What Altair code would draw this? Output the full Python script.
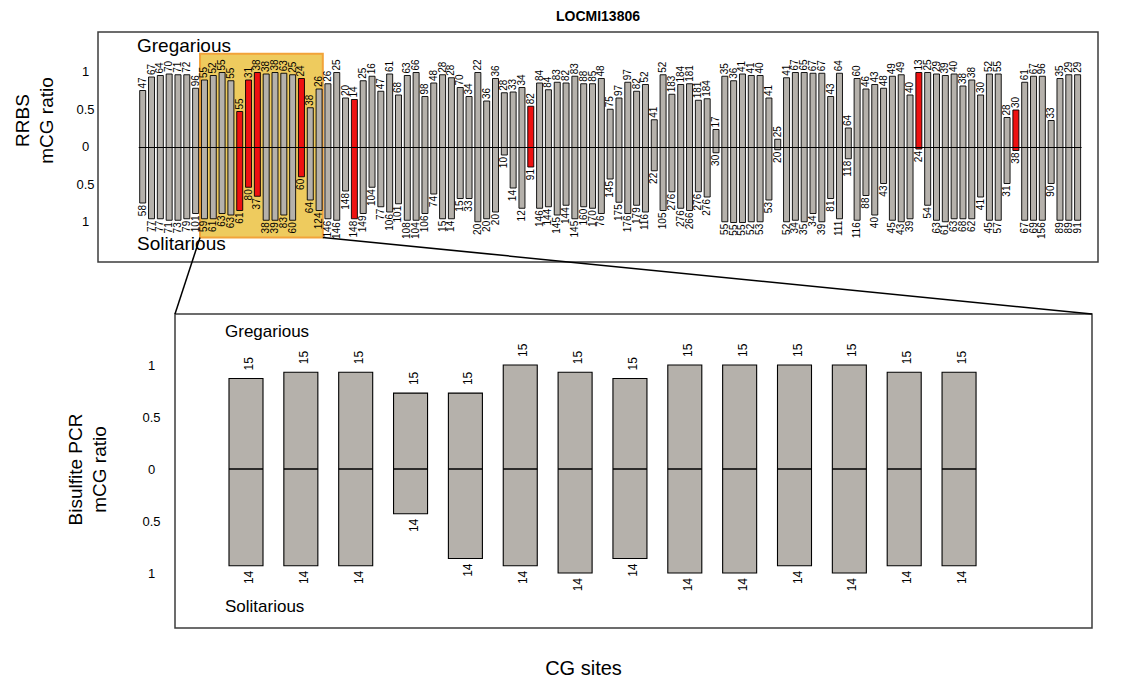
import altair as alt
import pandas as pd

FONT = "Liberation Sans"

# ---------------- RRBS: per CG site methylation ratio and read depth ----------------
rrbs_greg_ratio = [
    0.76, 0.94, 0.96, 0.98, 0.97, 0.97, 0.79, 0.90, 0.96, 1.00,
    0.89, 0.48, 0.90, 1.00, 0.98, 1.00, 0.99, 0.97, 0.92, 0.53,
    0.78, 0.85, 1.00, 0.66, 0.64, 0.89, 0.95, 0.75, 0.98, 0.70,
    0.96, 1.00, 0.68, 0.86, 0.97, 0.93, 0.80, 0.68, 1.00, 0.62,
    0.92, 0.73, 0.74, 0.80, 0.55, 0.86, 0.77, 0.87, 0.86, 0.95,
    0.85, 0.85, 0.92, 0.51, 0.66, 0.87, 0.75, 0.84, 0.37, 0.97,
    0.71, 0.84, 0.85, 0.63, 0.65, 0.24, 0.95, 0.89, 0.98, 0.96,
    0.96, 0.66, 0.11, 0.93, 1.00, 1.00, 0.99, 0.99, 0.68, 0.99,
    0.26, 0.92, 0.78, 0.84, 0.79, 0.95, 0.97, 0.70, 1.00, 1.00,
    0.98, 0.96, 0.98, 0.82, 0.90, 0.70, 0.98, 0.98, 0.40, 0.50,
    0.87, 0.95, 0.95, 0.36, 0.92, 0.97, 0.97,
]
rrbs_sol_ratio = [
    0.74, 0.95, 0.95, 0.97, 0.97, 0.95, 0.88, 0.95, 0.95, 0.88,
    0.90, 0.84, 0.53, 0.65, 0.97, 0.97, 0.90, 0.97, 0.39, 0.70,
    0.84, 0.95, 0.97, 0.58, 0.95, 0.88, 0.53, 0.79, 0.86, 0.75,
    0.97, 0.97, 0.88, 0.62, 0.95, 0.95, 0.68, 0.68, 0.99, 0.95,
    0.86, 0.10, 0.54, 0.81, 0.26, 0.81, 0.79, 0.90, 0.77, 0.95,
    0.79, 0.81, 0.88, 0.42, 0.73, 0.88, 0.77, 0.86, 0.31, 0.84,
    0.59, 0.81, 0.84, 0.59, 0.66, 0.07, 0.99, 1.00, 1.00, 0.99,
    0.99, 0.70, 0.03, 0.99, 0.97, 0.99, 0.88, 0.99, 0.68, 0.95,
    0.15, 0.97, 0.64, 0.90, 0.48, 0.97, 0.99, 0.95, 0.02, 0.77,
    0.97, 0.99, 0.95, 0.95, 0.95, 0.66, 0.97, 0.97, 0.48, 0.04,
    0.97, 0.97, 0.97, 0.48, 0.97, 0.97, 0.97,
]
rrbs_greg_depth = [
    47, 67, 64, 70, 71, 72, 96, 55, 52, 55,
    55, 55, 31, 38, 38, 38, 63, 25, 24, 38,
    26, 26, 25, 20, 14, 25, 16, 47, 61, 68,
    63, 66, 98, 48, 28, 28, 70, 34, 22, 36,
    36, 28, 33, 34, 82, 84, 84, 83, 82, 83,
    88, 85, 48, 75, 97, 97, 82, 52, 41, 52,
    183, 184, 181, 181, 184, 17, 35, 36, 41, 41,
    40, 41, 25, 41, 67, 65, 67, 67, 43, 64,
    64, 60, 46, 43, 48, 49, 49, 40, 13, 25,
    29, 39, 40, 38, 38, 30, 52, 55, 28, 30,
    61, 67, 96, 33, 35, 29, 29,
]
rrbs_sol_depth = [
    58, 77, 77, 71, 73, 79, 101, 59, 61, 63,
    63, 61, 80, 37, 38, 39, 83, 60, 60, 64,
    124, 146, 146, 148, 148, 149, 104, 77, 106, 101,
    108, 104, 106, 74, 15, 14, 15, 33, 20, 20,
    20, 10, 14, 12, 91, 146, 144, 145, 144, 145,
    160, 170, 76, 145, 175, 176, 179, 116, 22, 105,
    276, 276, 266, 276, 276, 30, 55, 55, 55, 52,
    53, 53, 20, 52, 34, 35, 34, 39, 81, 111,
    118, 116, 88, 40, 43, 45, 43, 39, 24, 54,
    63, 61, 63, 68, 62, 41, 45, 57, 31, 38,
    67, 69, 156, 90, 89, 89, 91,
]
# differentially methylated sites (drawn in red)
rrbs_dmr_sites = [12, 13, 14, 19, 25, 45, 89, 100]
# sites re-examined by bisulfite PCR
zoom_sites = list(range(8, 22))

# ---------------- Bisulfite PCR of the boxed sites ----------------
pcr_greg_ratio = [0.87, 0.93, 0.93, 0.73, 0.73, 1.00, 0.93, 0.87, 1.00, 1.00, 1.00, 1.00, 0.93, 0.93]
pcr_sol_ratio = [0.93, 0.93, 0.93, 0.43, 0.86, 0.93, 1.00, 0.86, 1.00, 1.00, 0.93, 1.00, 0.93, 0.93]
pcr_greg_clones = [15, 15, 15, 15, 15, 15, 15, 15, 15, 15, 15, 15, 15, 15]
pcr_sol_clones = [14, 14, 14, 14, 14, 14, 14, 14, 14, 14, 14, 14, 14, 14]

# ---------------- layout (pixels) ----------------
TOP_W, TOP_H = 1000, 230
TOP_FIRST, TOP_PITCH = 44.7, 8.82      # first bar centre from the left edge, bar pitch
TOP_ZERO, TOP_UNIT = 115.5, 75         # zero line from the top edge, px per ratio unit
TOP_HALF = 0.34                        # half bar width in site units
BOT_W, BOT_H = 994, 314
BOT_FIRST, BOT_PITCH = 148, 54.85
BOT_ZERO, BOT_UNIT = 155, 104
BOT_HALF = 0.31
BOT_FRAME_LEFT = 77                    # lower frame starts right of the plot origin
GAP = 52

GRAY = "#B5B1AB"
RED = "#EE1111"
GOLD = "#EECB5E"
ORANGE = "#F2A33A"
FRAME = "#3C3C3C"

top_xdom = [1 - TOP_FIRST / TOP_PITCH, 1 + (TOP_W - TOP_FIRST) / TOP_PITCH]
top_ydom = [-(TOP_H - TOP_ZERO) / TOP_UNIT, TOP_ZERO / TOP_UNIT]
bot_xdom = [1 - BOT_FIRST / BOT_PITCH, 1 + (BOT_W - BOT_FIRST) / BOT_PITCH]
bot_ydom = [-(BOT_H - BOT_ZERO) / BOT_UNIT, BOT_ZERO / BOT_UNIT]

xs_top = alt.Scale(domain=top_xdom, nice=False, zero=False)
ys_top = alt.Scale(domain=top_ydom, nice=False, zero=False)
xs_bot = alt.Scale(domain=bot_xdom, nice=False, zero=False)
ys_bot = alt.Scale(domain=bot_ydom, nice=False, zero=False)

one = pd.DataFrame({"k": [0]})

# ---------------- top panel: RRBS ----------------
sites = list(range(1, len(rrbs_greg_ratio) + 1))
rrbs = pd.DataFrame({
    "site": sites,
    "greg": rrbs_greg_ratio,
    "sol": rrbs_sol_ratio,
    "greg_n": rrbs_greg_depth,
    "sol_n": rrbs_sol_depth,
})
rrbs["sol_neg"] = -rrbs["sol"]
rrbs["lo"] = rrbs["site"] - TOP_HALF
rrbs["hi"] = rrbs["site"] + TOP_HALF
rrbs["status"] = ["DMR" if s in rrbs_dmr_sites else "other" for s in sites]


def ratio_axis(title, padding, offset, label_offset, title_x, title_y):
    return alt.Axis(
        values=[-1, -0.5, 0, 0.5, 1], labelExpr="format(abs(datum.value), '~g')",
        ticks=False, domain=False, grid=False, offset=offset,
        labelAlign="center", labelBaseline="middle", labelPadding=padding,
        labelOffset=label_offset,
        labelFont=FONT, labelFontSize=13, labelColor="black",
        title=title, titleFont=FONT, titleFontSize=19,
        titleFontWeight="normal", titleColor="black", titleAngle=270,
        titleAlign="center", titleBaseline="bottom", titleLineHeight=24,
        titleX=title_x, titleY=title_y,
    )


top_yaxis = ratio_axis(["RRBS", "mCG ratio"], 13, 0, -1, -66, 88)
bot_yaxis = ratio_axis(["Bisulfite PCR", "mCG ratio"], 24, -BOT_FRAME_LEFT, 0, -90, 155)
bot_xaxis = alt.Axis(
    labels=False, ticks=False, domain=False, grid=False,
    title="CG sites", titleFont=FONT, titleFontSize=20, titleFontWeight="normal",
    titleColor="black", titleAlign="center", titleBaseline="top",
    titleX=485, titleY=30,
)


def tx(field):
    return alt.X(field, type="quantitative", scale=xs_top, axis=None)


def ty(field):
    return alt.Y(field, type="quantitative", scale=ys_top, axis=top_yaxis)


box_lo = zoom_sites[0] - 0.5
box_hi = zoom_sites[-1] + 0.42
box_bottom, box_top = -1.2, 1.25

box = alt.Chart(one).mark_rect(fill=GOLD, stroke=ORANGE, strokeWidth=2).encode(
    x=alt.XDatum(box_lo, scale=xs_top, axis=None), x2=alt.X2Datum(box_hi),
    y=alt.YDatum(box_bottom, scale=ys_top, axis=top_yaxis), y2=alt.Y2Datum(box_top),
)

top_bars = alt.Chart(rrbs).mark_rect(stroke="black", strokeWidth=0.9).encode(
    x=tx("lo"), x2="hi:Q", y=ty("greg"), y2="sol_neg:Q",
    color=alt.Color("status:N", scale=alt.Scale(domain=["other", "DMR"], range=[GRAY, RED]), legend=None),
)

top_zero = alt.Chart(one).mark_rule(color="black", strokeWidth=1.2).encode(
    x=alt.XDatum(sites[0] - 0.45, scale=xs_top, axis=None), x2=alt.X2Datum(sites[-1] + 0.45),
    y=alt.YDatum(0, scale=ys_top, axis=top_yaxis),
)

top_glab = alt.Chart(rrbs).mark_text(
    angle=270, align="left", baseline="middle", dx=2, fontSize=10, font=FONT, color="black"
).encode(x=tx("site"), y=ty("greg"), text=alt.Text("greg_n:Q", format="d"))
top_slab = alt.Chart(rrbs).mark_text(
    angle=270, align="right", baseline="middle", dx=-2, fontSize=10, font=FONT, color="black"
).encode(x=tx("site"), y=ty("sol_neg"), text=alt.Text("sol_n:Q", format="d"))

top_greg = alt.Chart(one).mark_text(
    text="Gregarious", align="left", baseline="middle", fontSize=19, font=FONT, color="black"
).encode(x=alt.value(39), y=alt.value(14))
top_sol = alt.Chart(one).mark_text(
    text="Solitarious", align="left", baseline="middle", fontSize=19, font=FONT, color="black"
).encode(x=alt.value(39), y=alt.value(212))

top_frame = alt.Chart(one).mark_rect(fillOpacity=0, stroke=FRAME, strokeWidth=1.5).encode(
    x=alt.XDatum(top_xdom[0], scale=xs_top, axis=None), x2=alt.X2Datum(top_xdom[1]),
    y=alt.YDatum(top_ydom[0], scale=ys_top, axis=top_yaxis), y2=alt.Y2Datum(top_ydom[1]),
)

top = alt.layer(
    box, top_bars, top_zero, top_glab, top_slab, top_greg, top_sol, top_frame
).properties(
    width=TOP_W, height=TOP_H,
    title=alt.TitleParams("LOCMI13806", font=FONT, fontSize=14, fontWeight="bold",
                          color="black", anchor="middle", frame="group", offset=7),
)

# ---------------- bottom panel: bisulfite PCR ----------------
pcr_sites = list(range(1, len(pcr_greg_ratio) + 1))
pcr = pd.DataFrame({
    "site": pcr_sites,
    "greg": pcr_greg_ratio,
    "sol": pcr_sol_ratio,
    "greg_n": pcr_greg_clones,
    "sol_n": pcr_sol_clones,
})
pcr["sol_neg"] = -pcr["sol"]
pcr["lo"] = pcr["site"] - BOT_HALF
pcr["hi"] = pcr["site"] + BOT_HALF


def bx(field):
    return alt.X(field, type="quantitative", scale=xs_bot, axis=bot_xaxis)


def by(field):
    return alt.Y(field, type="quantitative", scale=ys_bot, axis=bot_yaxis)


frame_lo = 1 + (BOT_FRAME_LEFT - BOT_FIRST) / BOT_PITCH
bot_frame = alt.Chart(one).mark_rect(fillOpacity=0, stroke=FRAME, strokeWidth=1.5).encode(
    x=alt.XDatum(frame_lo, scale=xs_bot, axis=bot_xaxis), x2=alt.X2Datum(bot_xdom[1]),
    y=alt.YDatum(bot_ydom[0], scale=ys_bot, axis=bot_yaxis), y2=alt.Y2Datum(bot_ydom[1]),
)

bot_bars = alt.Chart(pcr).mark_rect(fill=GRAY, stroke="black", strokeWidth=1.1).encode(
    x=bx("lo"), x2="hi:Q", y=by("greg"), y2="sol_neg:Q",
)
bot_zero = alt.Chart(pcr).mark_rule(color="black", strokeWidth=1.5).encode(
    x=bx("lo"), x2="hi:Q", y=alt.YDatum(0, scale=ys_bot, axis=bot_yaxis),
)
bot_glab = alt.Chart(pcr).mark_text(
    angle=270, align="left", baseline="middle", dx=8, dy=3, fontSize=12, font=FONT, color="black"
).encode(x=bx("site"), y=by("greg"), text=alt.Text("greg_n:Q", format="d"))
bot_slab = alt.Chart(pcr).mark_text(
    angle=270, align="right", baseline="middle", dx=-5, dy=3, fontSize=12, font=FONT, color="black"
).encode(x=bx("site"), y=by("sol_neg"), text=alt.Text("sol_n:Q", format="d"))

bot_greg = alt.Chart(one).mark_text(
    text="Gregarious", align="left", baseline="middle", fontSize=17, font=FONT, color="black"
).encode(x=alt.value(127), y=alt.value(18))
bot_sol = alt.Chart(one).mark_text(
    text="Solitarious", align="left", baseline="middle", fontSize=17, font=FONT, color="black"
).encode(x=alt.value(127), y=alt.value(293))


# zoom connectors: from the bottom corners of the box to the top corners of the lower frame
def top_px(site, value):
    """Top-panel data position -> pixels relative to the lower plot origin."""
    px = TOP_FIRST + (site - 1) * TOP_PITCH
    py = TOP_ZERO - value * TOP_UNIT - (TOP_H + GAP)
    return px, py


lx, ly = top_px(box_lo, box_bottom)
rx, ry = top_px(box_hi, box_bottom)
conn_left = alt.Chart(one).mark_rule(color="black", strokeWidth=1.5).encode(
    x=alt.value(lx), y=alt.value(ly), x2=alt.value(BOT_FRAME_LEFT), y2=alt.value(0))
conn_right = alt.Chart(one).mark_rule(color="black", strokeWidth=1.5).encode(
    x=alt.value(rx), y=alt.value(ry), x2=alt.value(BOT_W), y2=alt.value(0))

bottom = alt.layer(
    bot_frame, bot_bars, bot_zero, bot_glab, bot_slab, bot_greg, bot_sol, conn_left, conn_right
).properties(width=BOT_W, height=BOT_H)

chart = alt.vconcat(top, bottom, spacing=GAP, bounds="flush").properties(
    padding={"left": 13, "top": 10, "right": 5, "bottom": 5}
).configure(font=FONT).configure_view(strokeWidth=0)

chart.save("out.html", embed_options={"renderer": "svg", "actions": False})
